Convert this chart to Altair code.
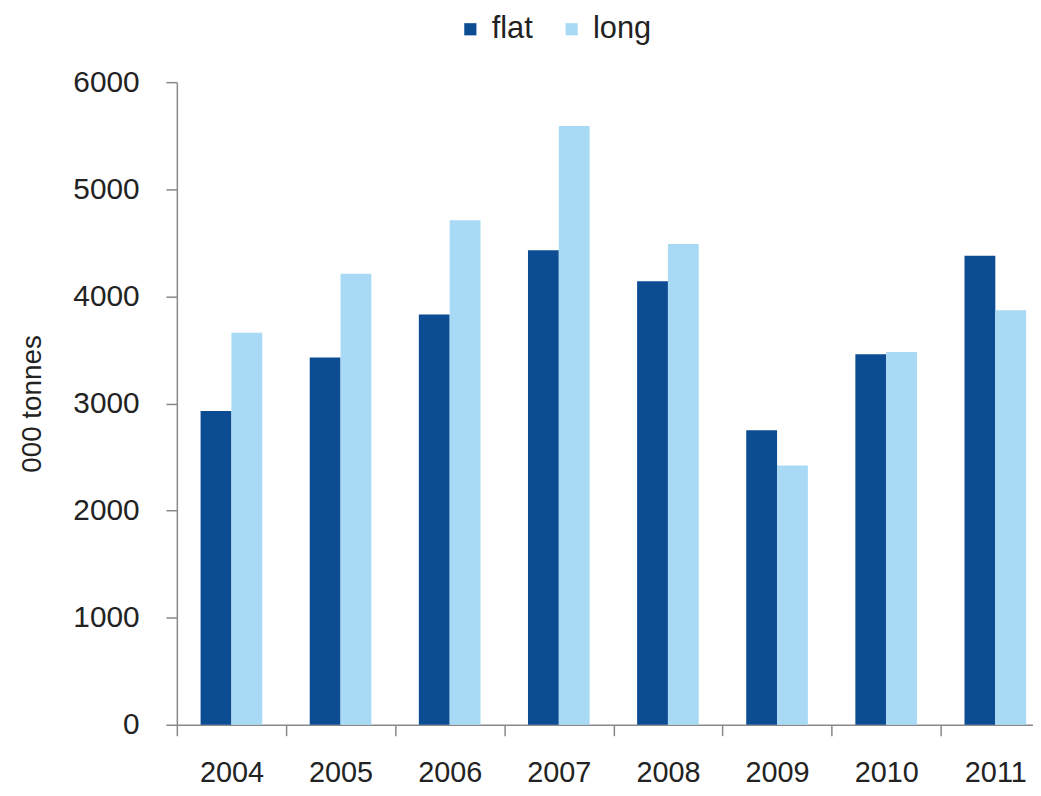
import altair as alt
import pandas as pd

years = ["2004", "2005", "2006", "2007", "2008", "2009", "2010", "2011"]
flat = [2930, 3430, 3830, 4430, 4140, 2750, 3460, 4380]
long_ = [3660, 4210, 4710, 5590, 4490, 2420, 3480, 3870]
series = ["flat", "long"]
colors = ["#0B4C93", "#A9DAF5"]

rows = []
for i, y in enumerate(years):
    rows.append({"year": y, "type": "flat", "value": flat[i]})
    rows.append({"year": y, "type": "long", "value": long_[i]})
df = pd.DataFrame(rows)

FONT = "Liberation Sans"

chart = alt.Chart(df).mark_bar().encode(
    x=alt.X("year:N", sort=years,
            scale=alt.Scale(paddingInner=0, paddingOuter=0, range=[0, 879]),
            axis=alt.Axis(title=None, labelAngle=0, tickBand="extent",
                          tickSize=11, labelPadding=23, labelFontSize=29,
                          labelFont=FONT, labelColor="#222222",
                          domainColor="#888888", tickColor="#888888",
                          domainWidth=1.5, tickWidth=1.5)),
    xOffset=alt.XOffset("type:N", sort=series,
                        scale=alt.Scale(paddingInner=0, paddingOuter=0.77)),
    y=alt.Y("value:Q", scale=alt.Scale(domain=[0, 6000]),
            axis=alt.Axis(title="000 tonnes", values=[0, 1000, 2000, 3000, 4000, 5000, 6000],
                          format="d",
                          grid=False, tickSize=11, labelPadding=27,
                          labelFontSize=30, labelFont=FONT, labelColor="#222222",
                          titleFontSize=28, titleFont=FONT, titleFontWeight="normal",
                          titleColor="#222222", titlePadding=27,
                          domainColor="#888888", tickColor="#888888",
                          domainWidth=1.5, tickWidth=1.5)),
    color=alt.Color("type:N", sort=series,
                    scale=alt.Scale(domain=series, range=colors),
                    legend=alt.Legend(title=None, orient="none", direction="horizontal",
                                      legendX=280, legendY=-69,
                                      symbolType="square", symbolSize=150,
                                      symbolStrokeWidth=0, symbolOpacity=1,
                                      labelFontSize=31, labelFont=FONT,
                                      labelColor="#222222", columnPadding=23,
                                      labelOffset=6)),
).properties(
    width=862, height=647,
    autosize=alt.AutoSizeParams(type="none"),
    padding={"left": 170, "top": 72, "right": 0, "bottom": 60},
).configure(background="white").configure_view(stroke=None)

chart.save("out.html", embed_options={"renderer": "svg", "actions": False})
